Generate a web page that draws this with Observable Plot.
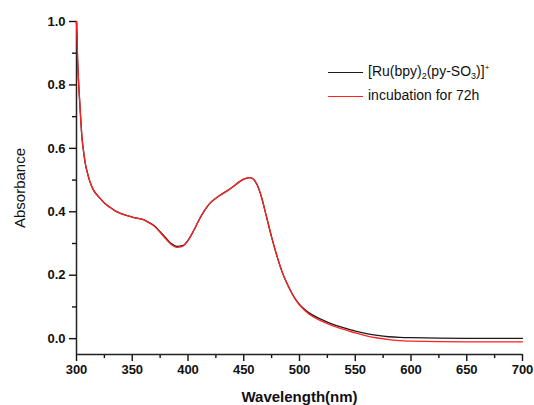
<!DOCTYPE html>
<html>
<head>
<meta charset="utf-8">
<script src="https://cdn.jsdelivr.net/npm/d3@7"></script>
<script src="https://cdn.jsdelivr.net/npm/@observablehq/plot@0.6"></script>
<style>
  html, body { margin: 0; padding: 0; background: #fff; }
  #wrap { position: relative; width: 534px; height: 405px; font-family: "Liberation Sans", Arial, sans-serif; }
  #wrap svg { font-family: "Liberation Sans", Arial, sans-serif; }
  g[aria-label="x-axis tick label"] text, g[aria-label="y-axis tick label"] text { font-weight: bold; }
  g[aria-label="x-axis label"] text { font-weight: bold; }
  .legend { position: absolute; left: 328px; top: 60px; font-size: 14px; color: #111; }
  .row { position: relative; height: 24px; }
  .sw { position: absolute; left: 0; top: 12px; width: 35px; height: 0; border-top: 1.4px solid; }
  .lab { position: absolute; left: 40px; top: 3px; white-space: nowrap; }
  sub { font-size: 9px; vertical-align: -3px; }
  sup { font-size: 8px; vertical-align: 6px; }
</style>
</head>
<body>
<div id="wrap"></div>
<script>
const wavelength = [300, 301, 302, 303, 304, 305, 306, 308, 310, 312, 315, 320, 325, 330, 335, 340, 350, 360, 365, 370, 375, 380, 385, 390, 395, 400, 405, 410, 415, 420, 425, 430, 435, 440, 445, 450, 455, 458, 462, 466, 470, 475, 480, 485, 490, 495, 500, 505, 510, 520, 530, 540, 550, 560, 570, 580, 590, 600, 650, 700];
const absBefore = [1.0, 0.88, 0.8, 0.74, 0.68, 0.63, 0.6, 0.55, 0.52, 0.495, 0.47, 0.447, 0.428, 0.414, 0.402, 0.394, 0.383, 0.375, 0.366, 0.355, 0.337, 0.318, 0.300, 0.291, 0.293, 0.310, 0.340, 0.375, 0.405, 0.428, 0.443, 0.455, 0.466, 0.478, 0.492, 0.503, 0.508, 0.505, 0.485, 0.445, 0.39, 0.32, 0.258, 0.205, 0.165, 0.132, 0.108, 0.091, 0.078, 0.060, 0.045, 0.034, 0.024, 0.016, 0.010, 0.006, 0.004, 0.003, 0.001, 0.001];
const absAfter = [1.0, 0.88, 0.8, 0.74, 0.68, 0.63, 0.6, 0.55, 0.52, 0.495, 0.47, 0.447, 0.428, 0.414, 0.402, 0.394, 0.383, 0.375, 0.366, 0.354, 0.335, 0.315, 0.297, 0.288, 0.291, 0.309, 0.340, 0.375, 0.405, 0.428, 0.443, 0.455, 0.466, 0.478, 0.492, 0.503, 0.508, 0.505, 0.485, 0.445, 0.39, 0.32, 0.258, 0.205, 0.165, 0.131, 0.106, 0.088, 0.074, 0.055, 0.040, 0.029, 0.018, 0.009, 0.002, -0.003, -0.006, -0.008, -0.010, -0.010];
const seriesNames = ["[Ru(bpy)2(py-SO3)]+", "incubation for 72h"];
const seriesColors = ["#1a1a1a", "#ff2020"];
const xTicks = [300, 350, 400, 450, 500, 550, 600, 650, 700];
const xMinor = [325, 375, 425, 475, 525, 575, 625, 675];
const yTicks = [0.0, 0.2, 0.4, 0.6, 0.8, 1.0];
const yMinor = [0.1, 0.3, 0.5, 0.7, 0.9];

const before = wavelength.map((w, i) => ({w, a: absBefore[i]}));
const after = wavelength.map((w, i) => ({w, a: absAfter[i]}));

const chart = Plot.plot({
  width: 534,
  height: 405,
  marginLeft: 76,
  marginRight: 12,
  marginTop: 21,
  marginBottom: 51,
  style: {fontSize: "13px", color: "#111", background: "#fff"},
  x: {domain: [300, 700]},
  y: {domain: [-0.05, 1.0]},
  marks: [
    Plot.axisX({ticks: xMinor, tickSize: 4, text: null, label: null, strokeWidth: 1.4}),
    Plot.axisY({ticks: yMinor, tickSize: 4, text: null, label: null, strokeWidth: 1.4}),
    Plot.axisX({ticks: xTicks, tickSize: 7, tickPadding: 3, tickFormat: d => String(d), strokeWidth: 1.4,
      label: "Wavelength(nm)", labelAnchor: "center", labelArrow: "none", labelOffset: 47, fontSize: 13}),
    Plot.axisY({ticks: yTicks, tickSize: 7, tickPadding: 4, tickFormat: d => d.toFixed(1), strokeWidth: 1.4, fontSize: 13,
      label: "Absorbance", labelAnchor: "center", labelArrow: "none", labelOffset: 62}),
    Plot.ruleX([300], {stroke: "#222", strokeWidth: 1.5}),
    Plot.ruleY([-0.05], {stroke: "#222", strokeWidth: 1.5}),
    Plot.line(before, {x: "w", y: "a", stroke: seriesColors[0], strokeWidth: 1.3, curve: "monotone-x"}),
    Plot.line(after, {x: "w", y: "a", stroke: seriesColors[1], strokeWidth: 1.3, curve: "monotone-x"})
  ]
});
const wrap = document.getElementById("wrap");
wrap.appendChild(chart);
chart.querySelectorAll('g[aria-label="x-axis label"] text').forEach(t => t.style.fontSize = "15px");
chart.querySelectorAll('g[aria-label="y-axis label"] text').forEach(t => t.style.fontSize = "15px");

const legend = document.createElement("div");
legend.className = "legend";
legend.innerHTML = `
  <div class="row"><div class="sw" style="border-color:${seriesColors[0]}"></div><div class="lab">[Ru(bpy)<sub>2</sub>(py-SO<sub>3</sub>)]<sup>+</sup></div></div>
  <div class="row"><div class="sw" style="border-color:${seriesColors[1]}"></div><div class="lab">${seriesNames[1]}</div></div>`;
wrap.appendChild(legend);
</script>
</body>
</html>
